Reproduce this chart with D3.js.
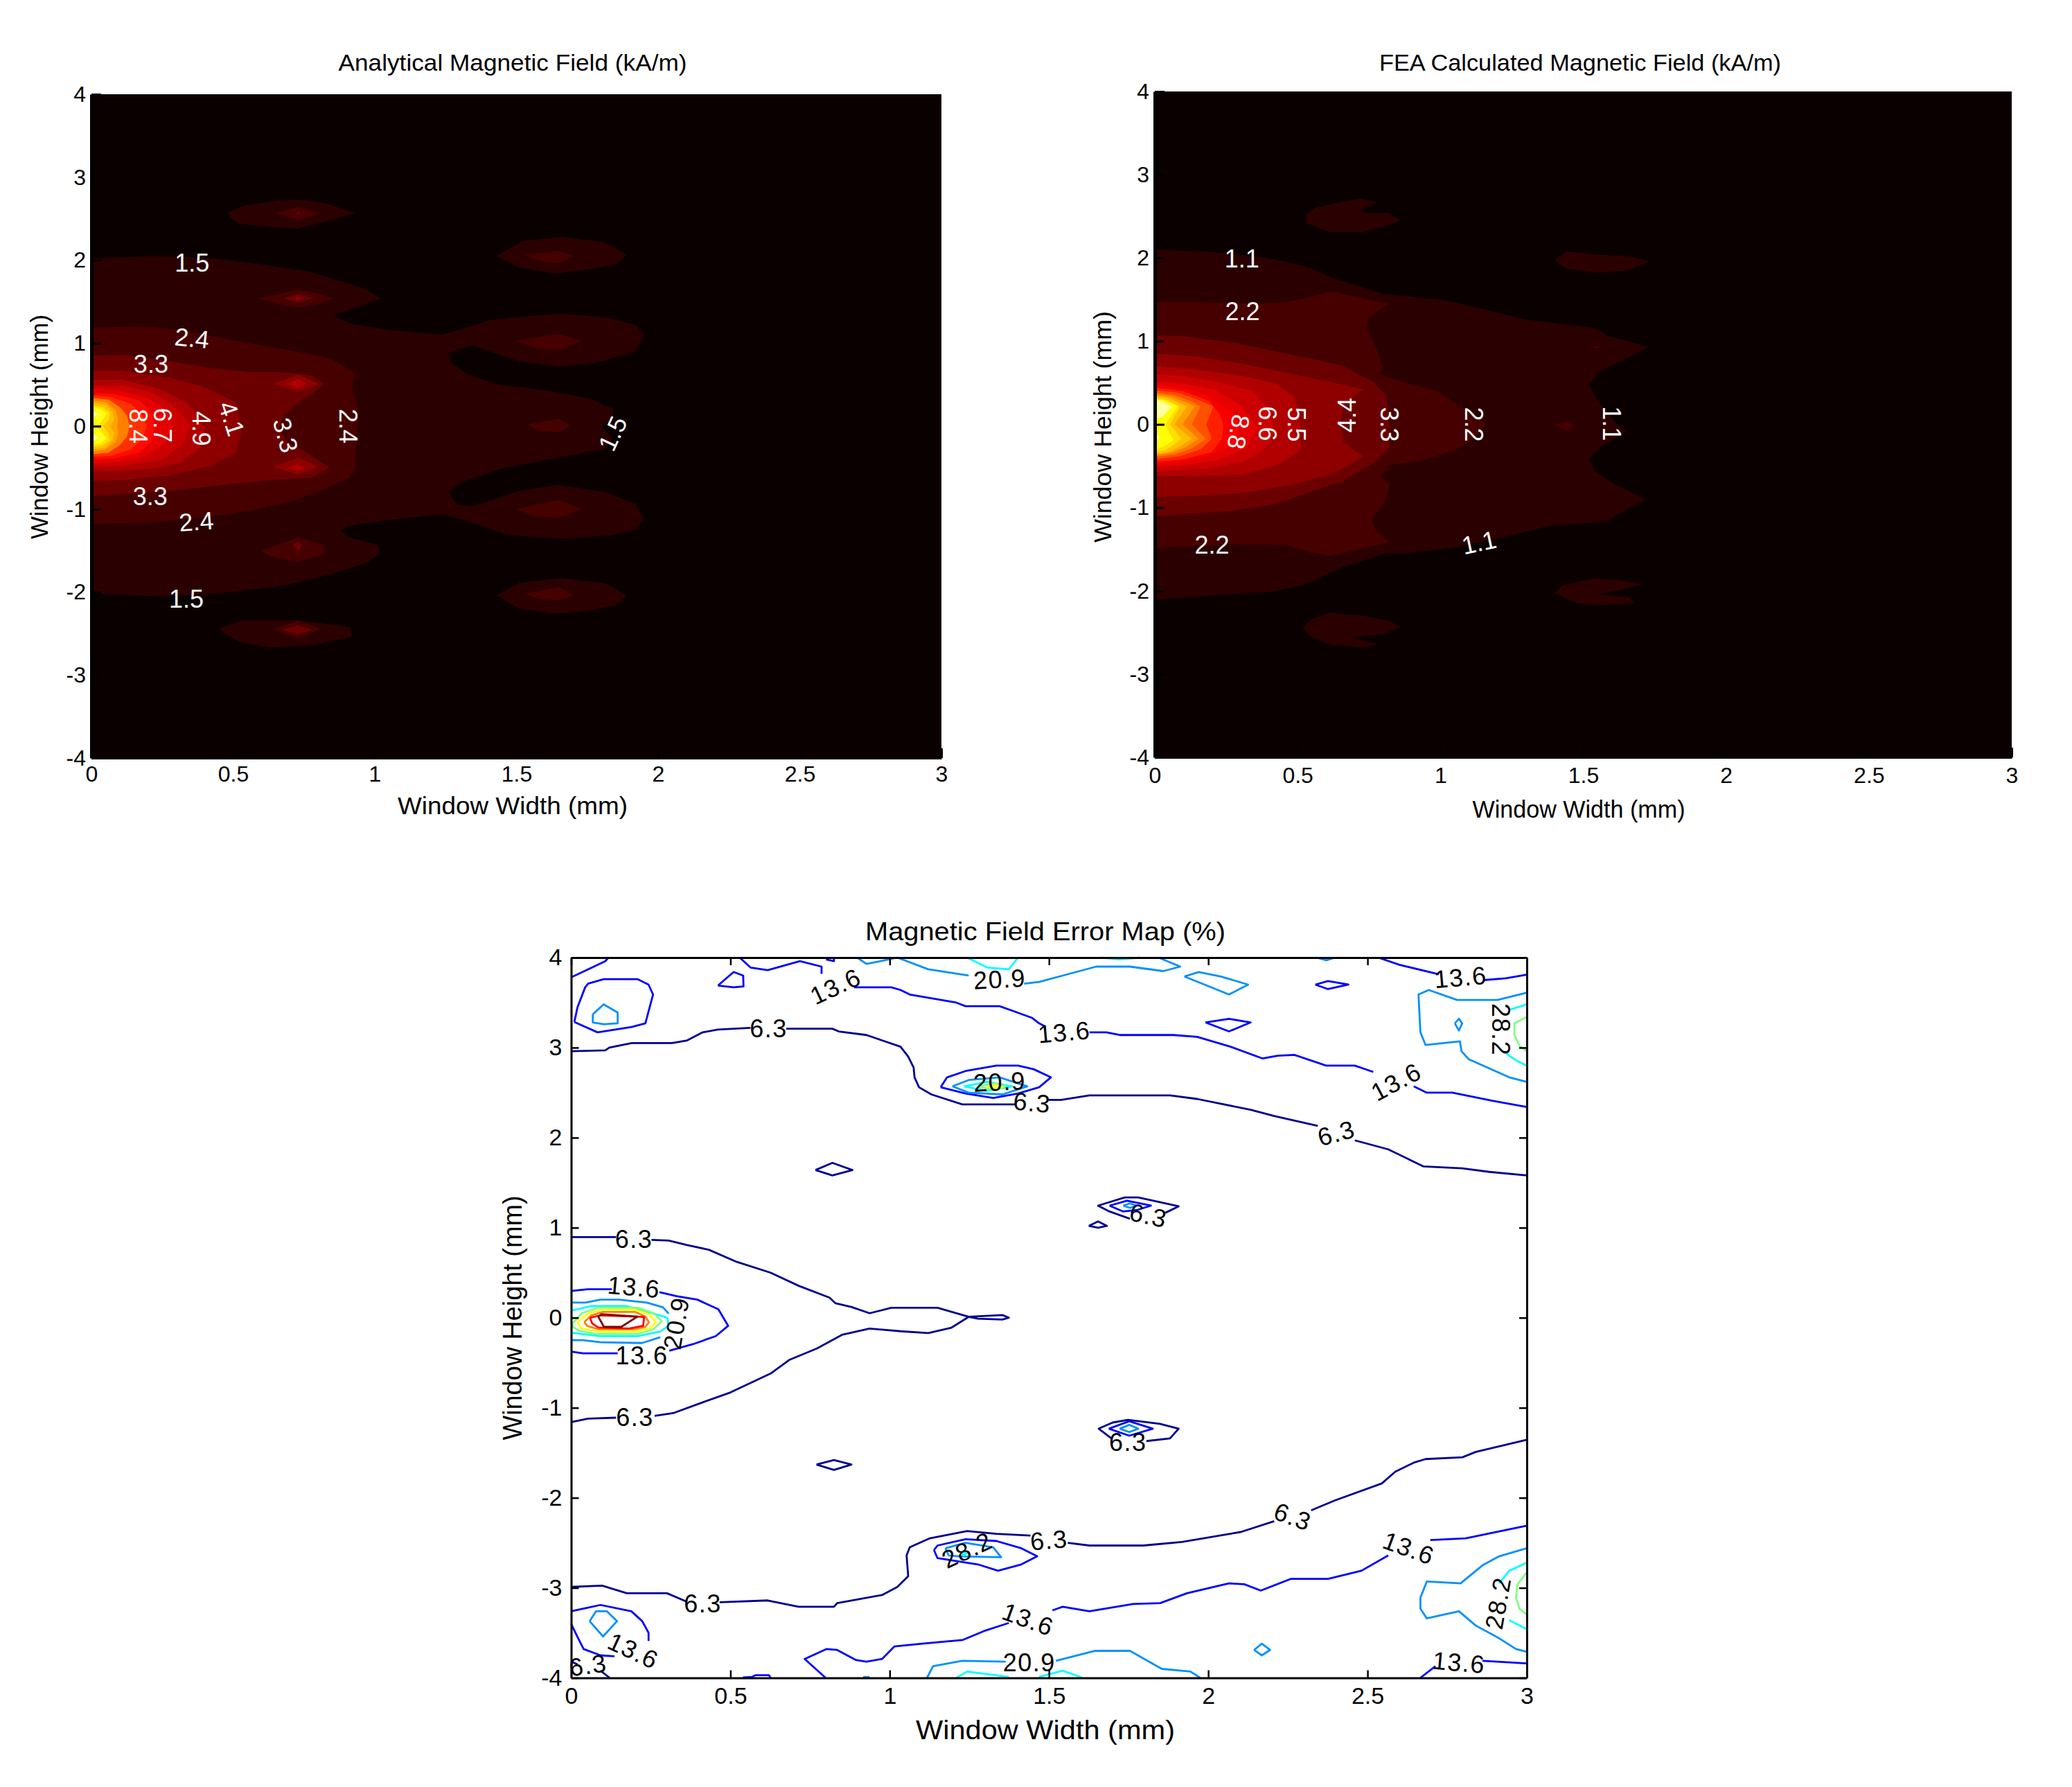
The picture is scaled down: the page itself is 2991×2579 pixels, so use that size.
<!DOCTYPE html>
<html><head><meta charset="utf-8">
<script src="https://cdnjs.cloudflare.com/ajax/libs/d3/7.8.5/d3.min.js"></script>
<style>html,body{margin:0;padding:0;background:#fff}svg{display:block}text{font-family:"Liberation Sans",Arial,sans-serif;fill:#000}</style>
</head><body><svg id="c" width="2991" height="2579"></svg>
<script>
// ---------- values (x mm, y mm) ----------
const xTicks=[0,.5,1,1.5,2,2.5,3];
const yTicks=[-4,-3,-2,-1,0,1,2,3,4];
const analyticalLevelValues=[1.5,2.4,3.3,4.1,4.9,5.8,6.7,7.5,8.4,9.3,10.1,11,11.8,12.7,13.6];
const feaLevelValues=[1.1,2.2,3.3,4.4,5.5,6.6,7.7,8.8,9.9,11,12.1,13.2,14.3,15.4,16.5,17.6];
const errorLevelValues=[6.3,13.6,20.9,28.2,35.5,42.8,50.1,57.4,64.7];

const analyticalBands=[
[0,[[0,2.02],[.21,2.05],[.42,2.03],[.6,1.95],[.77,1.86],[.88,1.75],[.97,1.65],[1.02,1.54],[.96,1.46],[.85,1.34],[.91,1.24],[1.05,1.16],[1.24,1.1],[1.41,1.28],[1.65,1.36],[1.82,1.31],[1.92,1.22],[1.95,1.11],[1.92,.9],[1.78,.76],[1.65,.72],[1.51,.78],[1.34,.98],[1.26,.88],[1.27,.76],[1.33,.62],[1.44,.5],[1.61,.43],[1.76,.33],[1.84,.21],[1.84,.09],[1.8,0],[1.84,-.15],[1.81,-.28],[1.61,-.4],[1.44,-.52],[1.3,-.68],[1.26,-.8],[1.29,-.94],[1.34,-.97],[1.51,-.78],[1.65,-.71],[1.82,-.8],[1.92,-.94],[1.95,-1.11],[1.92,-1.25],[1.82,-1.32],[1.65,-1.36],[1.47,-1.31],[1.33,-1.15],[1.24,-1.06],[1.05,-1.13],[.91,-1.2],[.88,-1.26],[.91,-1.34],[1.01,-1.43],[1.02,-1.53],[.97,-1.65],[.84,-1.79],[.68,-1.92],[.49,-2],[.35,-2.04],[.21,-2.05],[0,-2.01]]],
[0,[[.48,2.57],[.54,2.66],[.66,2.72],[.74,2.73],[.82,2.69],[.93,2.57],[.82,2.46],[.73,2.38],[.63,2.4],[.52,2.44],[.49,2.52]]],
[0,[[.45,-2.44],[.53,-2.34],[.73,-2.34],[.91,-2.42],[.92,-2.54],[.77,-2.64],[.63,-2.67],[.52,-2.6],[.47,-2.5]]],
[0,[[1.43,2.05],[1.52,2.23],[1.66,2.28],[1.81,2.22],[1.89,2.06],[1.85,1.95],[1.76,1.89],[1.64,1.84],[1.51,1.91]]],
[0,[[1.43,-2.04],[1.51,-1.89],[1.65,-1.83],[1.81,-1.89],[1.89,-2.04],[1.85,-2.16],[1.76,-2.22],[1.64,-2.26],[1.51,-2.2]]],
[1,[[0,1.19],[.21,1.2],[.35,1.14],[.49,1.04],[.66,.94],[.84,.82],[.93,.64],[.92,.45],[.94,.21],[.94,0],[.93,-.4],[.93,-.52],[.91,-.62],[.82,-.76],[.71,-.9],[.56,-1.02],[.42,-1.09],[.21,-1.16],[0,-1.18]]],
[1,[[.65,2.57],[.73,2.64],[.81,2.57],[.73,2.48]]],
[1,[[.59,1.54],[.67,1.6],[.73,1.65],[.8,1.6],[.85,1.54],[.8,1.47],[.73,1.43],[.66,1.47]]],
[1,[[.6,-1.5],[.73,-1.34],[.82,-1.43],[.82,-1.55],[.73,-1.63],[.63,-1.57]]],
[1,[[.64,-2.44],[.73,-2.35],[.81,-2.44],[.73,-2.56]]],
[1,[[1.53,2.06],[1.65,2.11],[1.7,2.05],[1.65,1.96],[1.58,1.99]]],
[1,[[1.5,1.03],[1.65,1.11],[1.73,1.03],[1.65,.91],[1.57,.94]]],
[1,[[1.54,.02],[1.65,.09],[1.69,0],[1.65,-.07],[1.58,-.06]]],
[1,[[1.5,-1],[1.65,-.89],[1.73,-1],[1.65,-1.11],[1.57,-1.09]]],
[1,[[1.53,-2.02],[1.65,-1.94],[1.7,-2.04],[1.65,-2.1],[1.58,-2.08]]],
[2,[[0,.85],[.11,.86],[.28,.78],[.42,.7],[.56,.65],[.68,.65],[.78,.61],[.82,.51],[.78,.39],[.73,.29],[.68,.13],[.66,-.03],[.69,-.19],[.75,-.3],[.84,-.5],[.78,-.62],[.63,-.65],[.49,-.7],[.28,-.78],[.11,-.82],[0,-.84]]],
[2,[[.68,1.54],[.73,1.59],[.78,1.54],[.73,1.49]]],
[2,[[.67,-2.45],[.73,-2.4],[.78,-2.45],[.73,-2.51]]],
[2,[[.71,-1.43],[.73,-1.39],[.745,-1.43],[.73,-1.51]]],
[2,[[.725,2.57],[.73,2.59],[.735,2.57],[.73,2.55]]],
[3,[[.64,.51],[.73,.62],[.8,.51],[.73,.42]]],
[3,[[.64,-.49],[.73,-.38],[.8,-.49],[.73,-.58]]],
[3,[[.71,1.54],[.73,1.56],[.75,1.54],[.73,1.52]]],
[3,[[0,.67],[.11,.67],[.28,.58],[.39,.48],[.46,.37],[.51,.29],[.53,-.07],[.51,-.32],[.42,-.48],[.28,-.59],[.11,-.65],[0,-.66]]],
[4,[[.69,.51],[.73,.57],[.76,.51],[.73,.46]]],
[4,[[.69,-.5],[.73,-.46],[.75,-.5],[.73,-.54]]],
[4,[[0,.56],[.11,.56],[.24,.45],[.33,.29],[.38,.13],[.4,-.07],[.38,-.28],[.31,-.44],[.21,-.52],[.11,-.54],[0,-.55]]],
[5,[[0,.49],[.11,.49],[.21,.41],[.29,.25],[.35,.01],[.32,-.23],[.25,-.4],[.11,-.48],[0,-.49]]],
[6,[[0,.45],[.1,.43],[.19,.35],[.26,.21],[.29,0],[.26,-.21],[.19,-.36],[.1,-.43],[0,-.45]]],
[7,[[0,.4],[.08,.39],[.17,.31],[.21,.17],[.225,0],[.21,-.19],[.17,-.32],[.08,-.39],[0,-.4]]],
[8,[[0,.37],[.07,.35],[.14,.27],[.18,.13],[.195,0],[.18,-.15],[.14,-.28],[.07,-.36],[0,-.37]]],
[9,[[0,.34],[.06,.32],[.1,.23],[.125,.13],[.135,0],[.125,-.13],[.1,-.23],[.06,-.32],[0,-.34]]],
[10,[[0,.31],[.05,.29],[.085,.19],[.095,.07],[.09,0],[.095,-.09],[.085,-.19],[.05,-.28],[0,-.31]]],
[11,[[0,.28],[.05,.26],[.075,.17],[.08,.07],[.065,0],[.08,-.08],[.075,-.17],[.05,-.26],[0,-.28]]],
[12,[[0,.25],[.04,.23],[.065,.16],[.06,.07],[.04,0],[.06,-.08],[.065,-.17],[.04,-.23],[0,-.26]]],
[13,[[0,.23],[.03,.21],[.055,.15],[.03,.03],[.012,0],[.03,-.05],[.055,-.15],[.03,-.21],[0,-.23]]],
[14,[[0,.19],[.025,.15],[0,.09]]],
[14,[[0,-.08],[.025,-.14],[0,-.2]]]
];
const analyticalLabels=[["1.5",.355,1.97,0],["2.4",.355,1.06,6],["3.3",.21,.75,0],["4.1",.495,.09,72],["4.9",.387,-.03,90],["6.7",.25,.01,90],["8.4",.165,0,90],["3.3",.685,-.11,75],["2.4",.905,0,90],["1.5",1.84,-.09,-65],["3.3",.207,-.85,0],["2.4",.37,-1.15,-4],["1.5",.335,-2.085,0]];

const feaBands=[
[0,[[0,2.1],[.21,2.07],[.39,2],[.52,1.91],[.63,1.75],[.8,1.57],[1.02,1.49],[1.19,1.35],[1.3,1.26],[1.54,1.16],[1.59,1.06],[1.73,.93],[1.63,.76],[1.56,.64],[1.52,.48],[1.54,.34],[1.61,.03],[1.65,-.09],[1.61,-.17],[1.56,-.27],[1.52,-.42],[1.54,-.56],[1.61,-.72],[1.72,-.9],[1.61,-1.1],[1.59,-1.16],[1.38,-1.22],[1.19,-1.38],[1.05,-1.48],[.88,-1.55],[.81,-1.55],[.66,-1.71],[.61,-1.79],[.52,-1.93],[.41,-2.01],[.21,-2.05],[0,-2.11]]],
[0,[[.53,2.52],[.56,2.6],[.63,2.66],[.72,2.71],[.78,2.67],[.72,2.58],[.74,2.54],[.82,2.54],[.86,2.45],[.8,2.38],[.73,2.31],[.61,2.31],[.53,2.42]]],
[0,[[.52,-2.44],[.55,-2.34],[.61,-2.26],[.73,-2.3],[.82,-2.36],[.86,-2.44],[.8,-2.52],[.69,-2.56],[.78,-2.64],[.73,-2.68],[.61,-2.64],[.54,-2.54]]],
[0,[[1.4,1.97],[1.44,2.08],[1.55,2.04],[1.66,2.02],[1.73,1.96],[1.66,1.85],[1.55,1.82],[1.44,1.87]]],
[0,[[1.4,-2.03],[1.43,-1.93],[1.54,-1.85],[1.63,-1.87],[1.71,-1.92],[1.63,-1.99],[1.55,-2.04],[1.66,-2.08],[1.68,-2.15],[1.55,-2.17],[1.48,-2.15]]],
[1,[[0,1.47],[.14,1.47],[.35,1.45],[.46,1.47],[.52,1.51],[.62,1.6],[.71,1.53],[.82,1.45],[.75,1.29],[.74,1.17],[.77,.96],[.8,.68],[.79,.6],[.88,.5],[.99,.4],[1.08,.19],[1.16,.01],[1.12,-.17],[1.05,-.31],[.94,-.43],[.82,-.49],[.79,-.62],[.82,-.72],[.81,-.9],[.76,-1.14],[.77,-1.26],[.82,-1.42],[.61,-1.58],[.54,-1.53],[.46,-1.45],[.28,-1.44],[0,-1.48]]],
[1,[[1.4,-.01],[1.44,.04],[1.47,-.02],[1.44,-.07]]],
[1,[[1.53,.93],[1.55,.95],[1.56,.92],[1.55,.91]]],
[2,[[0,1.07],[.1,1.06],[.28,.98],[.42,.88],[.56,.78],[.66,.7],[.77,.5],[.81,.34],[.82,-.01],[.82,-.29],[.77,-.45],[.66,-.68],[.54,-.82],[.42,-.96],[.27,-1.04],[0,-1.1]]],
[3,[[0,.85],[.14,.82],[.32,.72],[.49,.6],[.63,.5],[.73,.42],[.66,.23],[.65,-.01],[.66,-.21],[.73,-.39],[.63,-.58],[.49,-.72],[.32,-.82],[.14,-.86],[0,-.87]]],
[4,[[0,.7],[.14,.66],[.31,.58],[.43,.48],[.49,.32],[.51,-.01],[.51,-.31],[.43,-.49],[.31,-.6],[.14,-.62],[0,-.62]]],
[5,[[0,.6],[.1,.58],[.24,.5],[.34,.4],[.4,.19],[.42,-.09],[.38,-.31],[.31,-.45],[.18,-.53],[0,-.57]]],
[6,[[0,.51],[.1,.49],[.21,.42],[.3,.23],[.36,-.05],[.32,-.29],[.22,-.43],[.1,-.49],[0,-.51]]],
[7,[[0,.47],[.1,.44],[.19,.34],[.27,.15],[.3,-.09],[.27,-.25],[.18,-.39],[.08,-.45],[0,-.48]]],
[8,[[0,.44],[.1,.4],[.19,.28],[.23,.11],[.24,-.02],[.235,-.17],[.2,-.33],[.1,-.42],[0,-.45]]],
[9,[[0,.41],[.08,.38],[.15,.3],[.205,.216],[.18,0],[.2,-.172],[.16,-.3],[.09,-.38],[0,-.42]]],
[10,[[0,.38],[.07,.35],[.125,.28],[.16,.216],[.13,0],[.178,-.172],[.13,-.29],[.07,-.36],[0,-.39]]],
[11,[[0,.36],[.06,.33],[.105,.27],[.14,.216],[.097,0],[.153,-.172],[.105,-.28],[.06,-.34],[0,-.37]]],
[12,[[0,.345],[.05,.315],[.085,.26],[.113,.216],[.069,0],[.129,-.172],[.085,-.27],[.05,-.33],[0,-.36]]],
[13,[[0,.325],[.04,.3],[.07,.25],[.089,.216],[.053,0],[.093,-.172],[.06,-.26],[.035,-.31],[0,-.34]]],
[14,[[0,.31],[.03,.29],[.06,.25],[.081,.216],[.036,0],[.065,-.19],[.04,-.25],[0,-.31]]],
[15,[[0,.3],[.03,.27],[.06,.216],[.03,.1],[0,.05]]],
[15,[[0,-.06],[.015,-.16],[0,-.24]]]
];
const feaLabels=[["1.1",.305,1.99,0],["2.2",.307,1.36,0],["8.8",.293,-.09,100],["6.6",.394,.01,90],["5.5",.496,0,90],["4.4",.673,.11,-90],["3.3",.82,0,90],["2.2",1.117,0,90],["1.1",1.6,.01,90],["2.2",.2,-1.45,0],["1.1",1.135,-1.42,-12]];

const errorLines=[
[0,[[0,2.96],[.107,2.97],[.12,3],[.19,3.05],[.316,3.05],[.364,3.08],[.413,3.17],[.46,3.2],[.563,3.22]]],
[0,[[.675,3.21],[.82,3.21],[.84,3.18],[.927,3.14],[.976,3.08],[1.034,3.01],[1.058,2.9],[1.075,2.78],[1.078,2.67],[1.092,2.56],[1.131,2.48],[1.228,2.37],[1.393,2.37]]],
[0,[[1.496,2.42],[1.538,2.42],[1.627,2.47],[1.88,2.47],[1.965,2.43],[2.133,2.31],[2.207,2.24],[2.344,2.13]]],
[0,[[2.46,1.97],[2.565,1.87],[2.676,1.68],[2.797,1.66],[2.882,1.62],[3,1.58]]],
[0,[[0,.895],[.141,.895]]],
[0,[[.252,.865],[.306,.857],[.364,.807],[.432,.755],[.52,.62],[.626,.5],[.714,.355],[.811,.223],[.83,.16],[.879,.12],[.937,.05],[1.005,.11],[1.15,.11],[1.248,.01],[1.354,.03],[1.374,0],[1.354,-.02],[1.277,-.01],[1.248,.01],[1.194,-.11],[1.121,-.17],[1.034,-.15],[.937,-.12],[.85,-.19],[.772,-.34],[.684,-.47],[.626,-.62],[.5,-.83],[.413,-.94],[.32,-1.06],[.262,-1.09]]],
[0,[[.141,-1.11],[.053,-1.12],[0,-1.16]]],
[0,[[.767,1.64],[.82,1.72],[.883,1.64],[.82,1.58],[.767,1.64]]],
[0,[[.77,-1.63],[.825,-1.58],[.88,-1.63],[.825,-1.69],[.77,-1.63]]],
[0,[[1.754,1.1],[1.69,1.18],[1.654,1.245],[1.738,1.336],[1.78,1.336],[1.907,1.238],[1.865,1.165]]],
[0,[[1.625,1.02],[1.654,1.07],[1.682,1.02],[1.654,1],[1.625,1.02]]],
[0,[[1.806,-1.37],[1.88,-1.34],[1.907,-1.232],[1.848,-1.179],[1.748,-1.135],[1.7,-1.164],[1.656,-1.232],[1.696,-1.34]]],
[0,[[0,-2.99],[.097,-2.975],[.175,-3.06],[.301,-3.06],[.36,-3.15]]],
[0,[[.466,-3.16],[.617,-3.14],[.714,-3.21],[.825,-3.21],[.835,-3.17],[.976,-3.08],[1.024,-2.99],[1.058,-2.87],[1.053,-2.64],[1.063,-2.55],[1.126,-2.45],[1.243,-2.37],[1.335,-2.4],[1.442,-2.42]]],
[0,[[1.559,-2.5],[1.627,-2.53],[1.796,-2.53],[1.917,-2.49],[2.102,-2.38],[2.207,-2.26]]],
[0,[[2.323,-2.14],[2.397,-2.03],[2.545,-1.84],[2.587,-1.71],[2.645,-1.61],[2.682,-1.57],[2.798,-1.55],[2.84,-1.49],[3,-1.355]]],
[0,[[.092,-3.92],[.121,-4]]],
[0,[[0,-3.82],[.02,-3.85]]],
[1,[[0,3.78],[.107,3.96],[.117,4]]],
[1,[[.01,3.285],[.02,3.45],[.044,3.67],[.053,3.71],[.102,3.76],[.209,3.76],[.243,3.7],[.257,3.59],[.233,3.27],[.19,3.23],[.083,3.17],[.01,3.285]]],
[1,[[.461,3.69],[.51,3.84],[.54,3.8],[.541,3.68],[.51,3.67],[.461,3.69]]],
[1,[[.529,4],[.563,3.89],[.617,3.86],[.718,3.96],[.786,3.9],[.786,3.82]]],
[1,[[.8,3.98],[.825,3.96],[.825,4]]],
[1,[[.888,3.67],[1.005,3.67],[1.034,3.64],[1.063,3.59],[1.209,3.5],[1.238,3.46],[1.345,3.46],[1.393,3.4],[1.447,3.33],[1.469,3.27],[1.49,3.23]]],
[1,[[1.627,3.17],[1.68,3.17],[1.722,3.14],[1.891,3.14],[1.965,3.12],[2.07,3.01],[2.17,2.88],[2.218,2.91],[2.27,2.92],[2.37,2.8],[2.46,2.8],[2.518,2.73]]],
[1,[[2.645,2.57],[2.686,2.5],[2.766,2.5],[2.892,2.41],[3,2.34]]],
[1,[[2.534,4],[2.6,3.92],[2.724,3.815]]],
[1,[[2.864,3.75],[2.934,3.77],[3,3.81]]],
[1,[[1.991,3.28],[2.065,3.32],[2.133,3.28],[2.065,3.18],[1.991,3.28]]],
[1,[[2.336,3.7],[2.376,3.74],[2.44,3.7],[2.376,3.65],[2.336,3.7]]],
[1,[[1.16,2.56],[1.18,2.67],[1.238,2.74],[1.335,2.8],[1.403,2.8],[1.452,2.76],[1.506,2.67],[1.469,2.56],[1.403,2.49],[1.325,2.44],[1.238,2.49],[1.16,2.56]]],
[1,[[1.69,1.245],[1.745,1.3],[1.82,1.245],[1.775,1.195],[1.733,1.18],[1.69,1.245]]],
[1,[[1.688,-1.232],[1.752,-1.15],[1.826,-1.232],[1.752,-1.31],[1.688,-1.232]]],
[1,[[0,.298],[.052,.316],[.128,.316]]],
[1,[[.277,.283],[.331,.24],[.396,.201],[.462,.094],[.493,-.09],[.454,-.204],[.382,-.294],[.308,-.366]]],
[1,[[.146,-.396],[.037,-.396],[0,-.376]]],
[1,[[0,-3.26],[.053,-3.22],[.092,-3.19],[.189,-3.26],[.223,-3.37],[.243,-3.5],[.243,-3.59]]],
[1,[[0,-3.4],[.019,-3.54],[.039,-3.68],[.092,-3.75],[.136,-3.76]]],
[1,[[.799,-4],[.733,-3.79],[.801,-3.68],[.835,-3.69],[.893,-3.8],[.927,-3.82],[.976,-3.79],[1.015,-3.65],[1.102,-3.62],[1.228,-3.58],[1.296,-3.48],[1.374,-3.39]]],
[1,[[1.511,-3.25],[1.543,-3.21],[1.627,-3.26],[1.764,-3.18],[1.849,-3.17],[1.933,-3.06],[2.065,-2.95],[2.113,-2.96],[2.165,-3.03],[2.26,-2.9],[2.376,-2.9],[2.481,-2.81],[2.565,-2.64]]],
[1,[[2.697,-2.47],[2.808,-2.45],[3,-2.31]]],
[1,[[2.666,-4],[2.713,-3.87]]],
[1,[[2.861,-3.81],[3,-3.84]]],
[1,[[.539,-3.995],[.568,-3.99],[.578,-3.97],[.621,-3.97],[.626,-4]]],
[1,[[1.139,-2.58],[1.15,-2.53],[1.238,-2.46],[1.335,-2.48],[1.413,-2.56],[1.463,-2.65],[1.413,-2.74],[1.34,-2.81],[1.277,-2.74],[1.15,-2.67],[1.139,-2.58]]],
[2,[[.068,3.37],[.102,3.48],[.146,3.39],[.146,3.27],[.102,3.26],[.068,3.28],[.068,3.37]]],
[2,[[.898,4],[.927,3.93],[.971,3.96],[1.024,4],[1.121,3.87],[1.248,3.8]]],
[2,[[1.422,3.71],[1.469,3.73],[1.543,3.8],[1.648,3.9],[1.754,3.9],[1.859,3.85],[1.912,3.9],[1.844,4]]],
[2,[[2.339,4],[2.371,3.97],[2.397,4]]],
[2,[[1.925,3.79],[1.97,3.84],[2.04,3.79],[2.125,3.7],[2.065,3.59],[1.925,3.79]]],
[2,[[3,3.61],[2.908,3.53],[2.781,3.53],[2.692,3.64],[2.66,3.59],[2.666,3.17],[2.682,3.03],[2.79,3.07],[2.795,2.96],[2.818,2.87],[2.945,2.67],[3,2.62]]],
[2,[[2.774,3.27],[2.787,3.32],[2.797,3.27],[2.787,3.19],[2.774,3.27]]],
[2,[[1.197,2.57],[1.248,2.64],[1.345,2.67],[1.432,2.57],[1.354,2.48],[1.248,2.5],[1.197,2.57]]],
[2,[[1.733,1.245],[1.754,1.27],[1.775,1.245],[1.754,1.22],[1.733,1.245]]],
[2,[[1.722,-1.232],[1.752,-1.19],[1.78,-1.232],[1.752,-1.27],[1.722,-1.232]]],
[2,[[0,.168],[.045,.168],[.092,.201],[.15,.201],[.237,.168],[.288,.116],[.306,.045]]],
[2,[[.28,-.217],[.222,-.281],[.092,-.273],[.037,-.249],[0,-.249]]],
[2,[[.058,-3.37],[.078,-3.26],[.112,-3.26],[.144,-3.37],[.1,-3.54],[.058,-3.37]]],
[2,[[.917,-3.99],[.937,-3.99]]],
[2,[[1.117,-4],[1.136,-3.87],[1.228,-3.81],[1.364,-3.82]]],
[2,[[1.522,-3.81],[1.643,-3.7],[1.754,-3.7],[1.854,-3.9],[1.944,-3.93],[1.975,-4]]],
[2,[[2.144,-3.69],[2.168,-3.62],[2.194,-3.69],[2.168,-3.75],[2.144,-3.69]]],
[2,[[3,-2.56],[2.913,-2.65],[2.861,-2.75],[2.792,-2.95],[2.686,-2.93],[2.666,-3.11],[2.666,-3.23],[2.686,-3.34],[2.787,-3.26],[2.84,-3.42],[2.913,-3.56],[2.966,-3.68],[3,-3.71]]],
[2,[[1.175,-2.56],[1.238,-2.5],[1.325,-2.55],[1.35,-2.66],[1.218,-2.65],[1.185,-2.64],[1.175,-2.56]]],
[3,[[1.243,4],[1.306,3.89],[1.374,3.87],[1.403,4]]],
[3,[[1.664,4],[1.722,3.98],[1.786,4]]],
[3,[[3,3.48],[2.945,3.42]]],
[3,[[2.929,2.95],[2.966,2.86],[3,2.8]]],
[3,[[1.233,2.57],[1.306,2.62],[1.384,2.57],[1.306,2.52],[1.233,2.57]]],
[3,[[0,.078],[.063,.13],[.171,.13],[.229,.078],[.302,0],[.306,-.09],[.28,-.153],[.208,-.204],[.092,-.204],[0,-.166]]],
[3,[[1.209,-4],[1.243,-3.93],[1.374,-3.99]]],
[3,[[1.469,-3.99],[1.543,-3.92],[1.606,-4]]],
[3,[[3,-2.72],[2.945,-2.81],[2.913,-2.95]]],
[3,[[2.945,-3.36],[3,-3.46]]],
[3,[[1.225,-2.62],[1.233,-2.6],[1.241,-2.62],[1.233,-2.64],[1.225,-2.62]]],
[4,[[3,3.34],[2.961,3.27],[2.961,3.14],[2.977,3.02],[3,2.96]]],
[4,[[3,-2.83],[2.971,-2.96],[2.966,-3.11],[2.977,-3.23],[3,-3.3]]],
[4,[[1.277,2.57],[1.325,2.6],[1.364,2.57],[1.325,2.53],[1.277,2.57]]],
[4,[[.005,-.063],[.034,.052],[.084,.11],[.208,.11],[.259,.052],[.284,-.038],[.259,-.127],[.208,-.179],[.077,-.179],[.026,-.146],[.005,-.102],[.005,-.063]]],
[5,[[1.306,2.56],[1.335,2.59],[1.354,2.56],[1.335,2.55],[1.306,2.56]]],
[5,[[.019,-.05],[.055,.052],[.099,.09],[.2,.09],[.244,.039],[.266,-.05],[.248,-.114],[.2,-.153],[.085,-.153],[.034,-.12],[.019,-.05]]],
[6,[[.041,-.05],[.063,.026],[.099,.065],[.2,.065],[.233,.013],[.244,-.05],[.233,-.102],[.2,-.127],[.085,-.127],[.052,-.094],[.041,-.05]]],
[7,[[.059,0],[.092,.026],[.229,.008],[.226,-.09],[.182,-.12],[.085,-.109],[.066,-.063],[.059,0]]],
[8,[[.085,.013],[.095,.04],[.208,.013],[.157,-.102],[.103,-.102],[.085,.013]]]
];
const errorLabels=[["6.3",.62,3.21,0],["13.6",.83,3.68,-25],["20.9",1.345,3.76,-3],["20.9",1.345,2.62,-3],["6.3",1.447,2.39,5],["6.3",.197,.87,0],["13.6",.197,.34,5],["20.9",.33,-.06,-80],["13.6",.222,-.42,0],["6.3",.2,-1.105,0],["6.3",.413,-3.18,0],["13.6",.195,-3.7,25],["6.3",.053,-3.86,-8],["28.2",1.243,-2.58,-25],["13.6",1.434,-3.35,20],["20.9",1.438,-3.83,0],["6.3",1.5,-2.47,-5],["13.6",1.548,3.17,-5],["6.3",2.402,2.05,-15],["13.6",2.59,2.62,-28],["13.6",2.792,3.78,-5],["28.2",2.919,3.2,90],["6.3",1.812,1.135,12],["6.3",1.748,-1.385,0],["6.3",2.265,-2.21,20],["13.6",2.629,-2.56,20],["13.6",2.787,-3.83,5],["28.2",2.91,-3.17,-80]];

// ---------- styles and layout ----------
const hotFill=["#2b0000","#460000","#6b0000","#8e0000","#b00000","#cc0000","#e60000","#ff0a00","#ff3000","#ff8000","#ffa500","#ffc000","#ffe000","#ffff10","#ffffa0"];
const feaFill=["#2b0000","#460000","#6b0000","#8e0000","#b00000","#cc0000","#e60000","#f80000","#ff2000","#ff5000","#ff7800","#ffa000","#ffc000","#ffe000","#ffff00","#ffffa0"];
const jet=["#00008f","#0000ff","#0090ff","#00ffff","#80ff80","#ffff00","#ff8000","#ff0000","#800000"];
const bg="#0a0000";
const svg=d3.select("#c");

function frame(b){
  const x=d3.scaleLinear([0,3],[b.l,b.r]),y=d3.scaleLinear([-4,4],[b.b,b.t]);
  const g=svg.append("g");
  return {x,y,g,line:d3.line().x(d=>x(d[0])).y(d=>y(d[1]))};
}
function axes(f,b,o){
  const {x,y,g}=f;
  const ax=g.append("g").attr("transform",`translate(0,${b.b})`).call(d3.axisBottom(x).tickValues(xTicks).tickFormat(String).tickSizeInner(-o.tick).tickSizeOuter(0).tickPadding(o.padX));
  const ay=g.append("g").attr("transform",`translate(${b.l},0)`).call(d3.axisLeft(y).tickValues(yTicks).tickFormat(String).tickSizeInner(-o.tick).tickSizeOuter(0).tickPadding(o.padY));
  [ax,ay].forEach(a=>{a.selectAll("text").attr("font-size",o.tickFont).attr("font-family",'"Liberation Sans",Arial,sans-serif').attr("fill","#000");
    a.selectAll("line").attr("stroke","#000").attr("stroke-width",o.tickW);});
  ax.select(".domain").attr("stroke","#000").attr("stroke-width",o.bottomW);
  ay.select(".domain").attr("stroke","#000").attr("stroke-width",o.leftW);
  if(o.box){
    g.append("g").attr("transform",`translate(0,${b.t})`).call(d3.axisTop(x).tickValues(xTicks).tickFormat("").tickSizeInner(-o.tick).tickSizeOuter(0)).call(a=>{a.selectAll("line").attr("stroke","#000").attr("stroke-width",o.tickW);a.select(".domain").attr("stroke","#000").attr("stroke-width",o.bottomW)});
    g.append("g").attr("transform",`translate(${b.r},0)`).call(d3.axisRight(y).tickValues(yTicks).tickFormat("").tickSizeInner(-o.tick).tickSizeOuter(0)).call(a=>{a.selectAll("line").attr("stroke","#000").attr("stroke-width",o.tickW);a.select(".domain").attr("stroke","#000").attr("stroke-width",o.bottomW)});
  }
}
function free(s,cx,cy,fs,len,rot){
  svg.append("text").text(s).attr("text-anchor","middle").attr("dominant-baseline","central")
   .attr("font-size",fs).attr("textLength",len).attr("lengthAdjust","spacingAndGlyphs")
   .attr("transform",`translate(${cx},${cy}) rotate(${rot||0})`);
}
function labels(f,list,col,fs,spacing){
  f.g.selectAll(null).data(list).join("text").text(d=>d[0])
   .attr("text-anchor","middle").attr("dominant-baseline","central").attr("font-size",fs)
   .attr("letter-spacing",spacing).style("fill",col)
   .attr("transform",d=>`translate(${f.x(d[1])},${f.y(d[2])}) rotate(${d[3]})`);
}
function filled(b,bands,fills,o){
  const f=frame(b);
  f.g.append("rect").attr("x",b.l).attr("y",b.t).attr("width",b.r-b.l).attr("height",b.b-b.t).attr("fill",bg);
  const sorted=bands.slice().sort((p,q)=>p[0]-q[0]);
  f.g.selectAll(null).data(sorted).join("path").attr("d",d=>f.line(d[1])+"Z").attr("fill",d=>fills[d[0]]);
  axes(f,b,o);
  return f;
}

const b1={l:132,r:1359,t:136,b:1094};
const f1=filled(b1,analyticalBands,hotFill,{tick:14,tickW:3,padX:11,padY:8,tickFont:32,bottomW:3,leftW:5});
labels(f1,analyticalLabels,"#fff",36,0);
free("Analytical Magnetic Field (kA/m)",740,90,34,503);
free("Window Width (mm)",740,1162,35,332);
free("Window Height (mm)",56,616,35,324,-90);

const b2={l:1667,r:2904,t:132,b:1093};
const f2=filled(b2,feaBands,feaFill,{tick:14,tickW:3,padX:14,padY:8,tickFont:32,bottomW:3,leftW:5});
labels(f2,feaLabels,"#fff",36,0);
free("FEA Calculated Magnetic Field (kA/m)",2281,90,34,580);
free("Window Width (mm)",2279,1167,35,307);
free("Window Height (mm)",1591,616,35,334,-90);

const b3={l:824.5,r:2204,t:1382,b:2421.5};
const f3=frame(b3);
f3.g.selectAll(null).data(errorLines).join("path").attr("d",d=>f3.line(d[1])).attr("fill","none")
  .attr("stroke",d=>jet[d[0]]).attr("stroke-width",2.8).attr("stroke-linejoin","round");
labels(f3,errorLabels,"#000",36,1.5);
axes(f3,b3,{tick:11,tickW:2.5,padX:13,padY:13,tickFont:34,bottomW:3,leftW:3,box:true});
free("Magnetic Field Error Map (%)",1509,1344,36,520);
free("Window Width (mm)",1509,2497,38,374);
free("Window Height (mm)",740,1902,38,353,-90);
</script></body></html>
